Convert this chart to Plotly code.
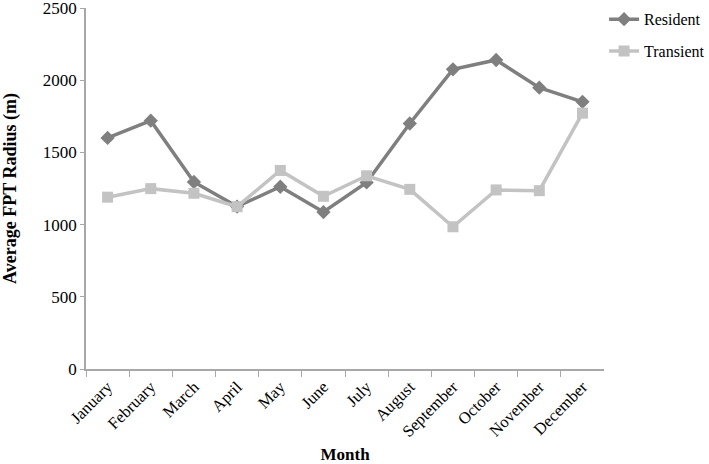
import plotly.graph_objects as go

months = ['January', 'February', 'March', 'April', 'May', 'June', 'July',
          'August', 'September', 'October', 'November', 'December']
resident = [1600, 1720, 1295, 1125, 1262, 1087, 1292, 1700, 2075, 2140, 1948, 1850]
transient = [1190, 1249, 1217, 1124, 1375, 1196, 1338, 1244, 985, 1240, 1235, 1772]
y_ticks = [0, 500, 1000, 1500, 2000, 2500]

font = 'Liberation Serif, Times New Roman, serif'

fig = go.Figure()
fig.add_trace(go.Scatter(x=months, y=resident, name='Resident', mode='lines+markers',
                         legendgroup='r',
                         line=dict(color='#7f7f7f', width=3.5),
                         marker=dict(symbol='diamond', size=11, color='#7f7f7f')))
fig.add_trace(go.Scatter(x=months, y=transient, name='Transient', mode='lines+markers',
                         legendgroup='t',
                         line=dict(color='#c3c3c3', width=3.5),
                         marker=dict(symbol='square', size=11, color='#c3c3c3')))

fig.update_layout(
    width=709, height=464,
    margin=dict(l=86, r=98, t=8, b=95),
    plot_bgcolor='white', paper_bgcolor='white',
    font=dict(family=font, size=16, color='black'),
    legend=dict(x=0.852, y=0.995, xanchor='left', yanchor='top',
                xref='container', yref='container',
                font=dict(size=16), itemwidth=30, traceorder='grouped',
                tracegroupgap=8, bgcolor='rgba(0,0,0,0)'),
    xaxis=dict(title=dict(text='<b>Month</b>', font=dict(size=17), standoff=17),
               range=[-0.5, 11.5], tickangle=-45, tickson='boundaries',
               ticks='outside', ticklen=6, tickcolor='#a8a8a8', automargin=False,
               showline=True, linecolor='#a8a8a8', linewidth=1.5,
               showgrid=False, zeroline=False, tickfont=dict(size=16.5),
               ticklabeloverflow='allow'),
    yaxis=dict(title=dict(text='<b>Average FPT Radius (m)</b>', font=dict(size=18), standoff=22),
               range=[0, 2500], tickvals=y_ticks, automargin=False,
               ticks='outside', ticklen=4, tickcolor='#a8a8a8',
               showline=True, linecolor='#a8a8a8', linewidth=1.5,
               showgrid=False, zeroline=False, tickfont=dict(size=17),
               ticklabeloverflow='allow'),
)

# the page body has a default margin; drop it so the figure sits at 0,0
fig.write_html('out.html', config={'responsive': False, 'displayModeBar': False},
               post_script="document.body.style.margin='0';document.body.style.overflow='hidden';")
